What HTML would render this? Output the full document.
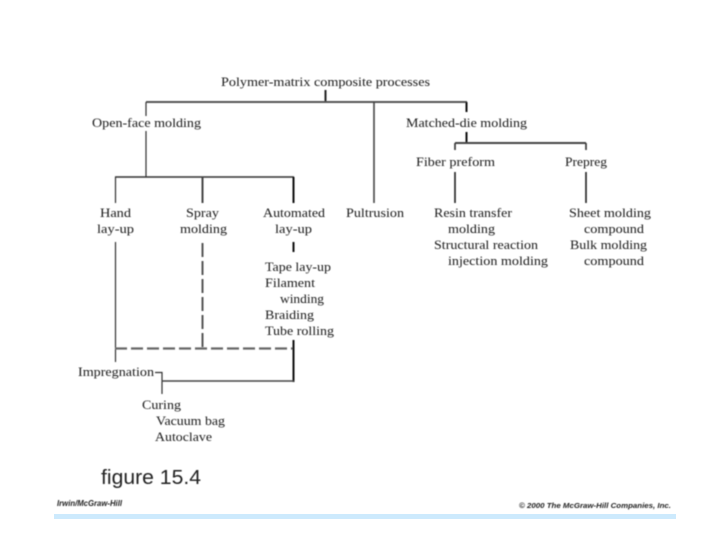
<!DOCTYPE html>
<html>
<head>
<meta charset="utf-8">
<style>
html,body{margin:0;padding:0;background:#fff;width:720px;height:540px;overflow:hidden}
svg{display:block}
text{font-family:"Liberation Serif",serif;font-size:12.5px;fill:#1a1a1a}
.s{font-family:"Liberation Sans",sans-serif}
</style>
</head>
<body>
<svg width="720" height="540" viewBox="0 0 720 540" xmlns="http://www.w3.org/2000/svg">
<defs><filter id="b" x="-5%" y="-5%" width="110%" height="110%"><feGaussianBlur stdDeviation="0.4"/></filter></defs>
<rect x="54" y="514" width="622" height="5" fill="#cdeafd"/>
<g filter="url(#b)">
<g fill="none" stroke-linecap="butt">
<path d="M325.5 90V102" stroke="#222" stroke-width="2"/>
<path d="M146 102H467" stroke="#555" stroke-width="2"/>
<path d="M146 102V116M146 131V177" stroke="#333" stroke-width="1.2"/>
<path d="M115 177H294" stroke="#333" stroke-width="1.4"/>
<path d="M115.500 177V203" stroke="#333" stroke-width="1.2"/>
<path d="M202.500 177V203" stroke="#444" stroke-width="2"/>
<path d="M293.500 177V203" stroke="#111" stroke-width="2"/>
<path d="M374 102V203" stroke="#444" stroke-width="1.600"/>
<path d="M466.500 102V112M466.500 132V143" stroke="#111" stroke-width="2"/>
<path d="M455 143H586" stroke="#444" stroke-width="2"/>
<path d="M455 143V150M586 143V150" stroke="#333" stroke-width="1.600"/>
<path d="M455 172V203M586 172V203" stroke="#222" stroke-width="1.600"/>
<path d="M115.500 242V362" stroke="#333" stroke-width="1.200"/>
<path d="M202.500 243V348" stroke="#555" stroke-width="2" stroke-dasharray="14 4"/>
<path d="M293.500 242V252" stroke="#111" stroke-width="2"/>
<path d="M115 348.500H293" stroke="#666" stroke-width="2.200" stroke-dasharray="12 4"/>
<path d="M293.500 340V382" stroke="#111" stroke-width="2"/>
<path d="M155 372.500H162V394" stroke="#333" stroke-width="1.200"/>
<path d="M162 381H294" stroke="#444" stroke-width="1.600"/>
</g>
<text x="221" y="86" textLength="209" lengthAdjust="spacingAndGlyphs">Polymer-matrix composite processes</text>
<text x="92" y="127" textLength="109" lengthAdjust="spacingAndGlyphs">Open-face molding</text>
<text x="406" y="127" textLength="121" lengthAdjust="spacingAndGlyphs">Matched-die molding</text>
<text x="416" y="166" textLength="79" lengthAdjust="spacingAndGlyphs">Fiber preform</text>
<text x="565" y="166" textLength="42" lengthAdjust="spacingAndGlyphs">Prepreg</text>
<text x="100" y="217" textLength="31" lengthAdjust="spacingAndGlyphs">Hand</text>
<text x="97" y="233" textLength="37" lengthAdjust="spacingAndGlyphs">lay-up</text>
<text x="186" y="217" textLength="33" lengthAdjust="spacingAndGlyphs">Spray</text>
<text x="180" y="233" textLength="47" lengthAdjust="spacingAndGlyphs">molding</text>
<text x="263" y="217" textLength="62" lengthAdjust="spacingAndGlyphs">Automated</text>
<text x="275" y="233" textLength="37" lengthAdjust="spacingAndGlyphs">lay-up</text>
<text x="346" y="217" textLength="58" lengthAdjust="spacingAndGlyphs">Pultrusion</text>
<text x="434" y="217" textLength="78" lengthAdjust="spacingAndGlyphs">Resin transfer</text>
<text x="448" y="233" textLength="47" lengthAdjust="spacingAndGlyphs">molding</text>
<text x="434" y="249" textLength="104" lengthAdjust="spacingAndGlyphs">Structural reaction</text>
<text x="448" y="265" textLength="100" lengthAdjust="spacingAndGlyphs">injection molding</text>
<text x="569" y="217" textLength="82" lengthAdjust="spacingAndGlyphs">Sheet molding</text>
<text x="584" y="233" textLength="60" lengthAdjust="spacingAndGlyphs">compound</text>
<text x="570" y="249" textLength="77" lengthAdjust="spacingAndGlyphs">Bulk molding</text>
<text x="584" y="265" textLength="60" lengthAdjust="spacingAndGlyphs">compound</text>
<text x="265" y="271" textLength="66" lengthAdjust="spacingAndGlyphs">Tape lay-up</text>
<text x="265" y="287" textLength="50" lengthAdjust="spacingAndGlyphs">Filament</text>
<text x="280" y="303" textLength="44" lengthAdjust="spacingAndGlyphs">winding</text>
<text x="265" y="319" textLength="49" lengthAdjust="spacingAndGlyphs">Braiding</text>
<text x="265" y="335" textLength="69" lengthAdjust="spacingAndGlyphs">Tube rolling</text>
<text x="78" y="376" textLength="76" lengthAdjust="spacingAndGlyphs">Impregnation</text>
<text x="142" y="409" textLength="39" lengthAdjust="spacingAndGlyphs">Curing</text>
<text x="156" y="425" textLength="69" lengthAdjust="spacingAndGlyphs">Vacuum bag</text>
<text x="155" y="441" textLength="57" lengthAdjust="spacingAndGlyphs">Autoclave</text>
<text class="s" x="101" y="484" style="font-size:20px;fill:#222" textLength="100" lengthAdjust="spacingAndGlyphs">figure 15.4</text>
<text class="s" x="57" y="506" style="font-size:8px;font-style:italic;fill:#222;font-weight:bold" textLength="65" lengthAdjust="spacingAndGlyphs">Irwin/McGraw-Hill</text>
<text class="s" x="519" y="508" style="font-size:7px;font-style:italic;font-weight:bold;fill:#222" textLength="152" lengthAdjust="spacingAndGlyphs">© 2000 The McGraw-Hill Companies, Inc.</text>
</g>
</svg>
</body>
</html>
